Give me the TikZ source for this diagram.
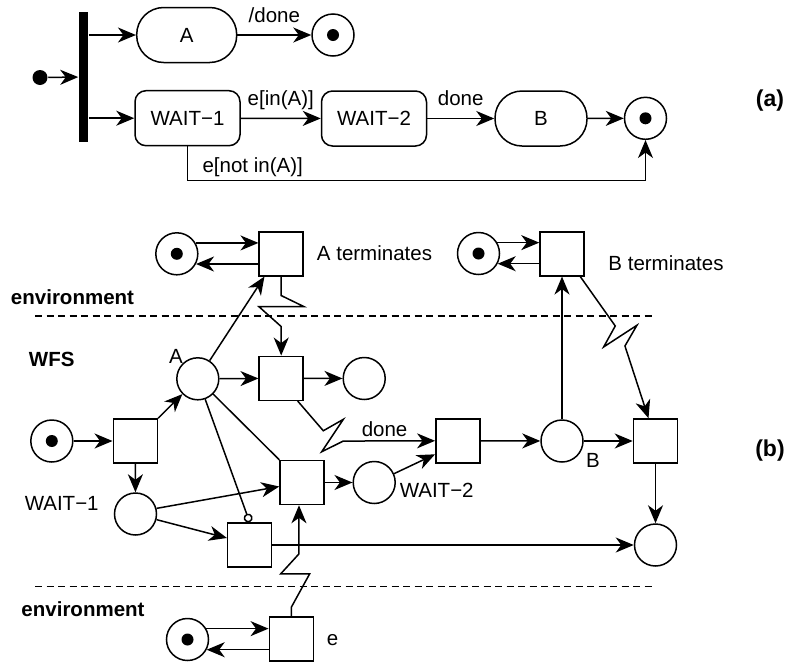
\documentclass[tikz,border=0pt]{standalone}
\usepackage{fontspec}
\setmainfont{Liberation Sans}
\usetikzlibrary{arrows.meta,calc}

\tikzset{
  place/.style={circle, draw, minimum size=42pt, inner sep=0pt},
  final/.style={place, path picture={\fill (path picture bounding box.center) circle (6pt);}},
  trans/.style={rectangle, draw, minimum size=44pt, inner sep=0pt},
  state/.style={rectangle, draw, rounded corners=11pt, minimum width=105pt, minimum height=55pt},
  activity/.style={rectangle, draw, rounded corners=27pt, minimum height=55pt},
  lbl/.style={anchor=base, yshift=13pt},
  zone/.style={font=\fontsize{20.5}{24}\selectfont\bfseries},
  part/.style={font=\fontsize{23}{28}\selectfont\bfseries},
  border/.style={dash pattern=on 7pt off 4.5pt},
}

\begin{document}
\begin{tikzpicture}[x=1pt, y=-1pt, line width=1.5pt,
    >={Stealth[length=18pt,width=15pt,inset=5.5pt]},
    font=\fontsize{20.5}{24}\selectfont]
    \useasboundingbox (0,0) rectangle (787,662);

    % (a) statechart
    \node[circle, fill, minimum size=15pt, inner sep=0pt] (ini) at (40,77.5) {};
    \node[fill, minimum width=9pt, minimum height=130pt, inner sep=0pt] (fork) at (83.5,77) {};
    \node[activity, minimum width=100pt] (stA) at (186.7,35) {A};
    \node[final] (finA) at (333,35) {};
    \node[state] (stW1) at (187.5,118.2) {WAIT−1};
    \node[state] (stW2) at (374,118.5) {WAIT−2};
    \node[activity, minimum width=92pt] (stB) at (541,118.5) {B};
    \node[final] (finB) at (645.5,118.3) {};
    \node[part] (capA) at (770,101) {(a)};

    \draw[->] (ini) -- (fork);
    \draw[->] (fork.east |- stA.west) -- (stA);
    \draw[->] (stA) -- node[lbl] {/done} (finA);
    \draw[->] (fork.east |- stW1.west) -- (stW1);
    \draw[->] (stW1) -- node[lbl] {e[in(A)]} (stW2);
    \draw[->] (stW2) -- node[lbl] {done} (stB);
    \draw[->] (stB) -- (finB);
    \draw[->] (stW1.south) |- node[above right, xshift=11pt] {e[not in(A)]}
        ([yshift=-40.5pt]finB.south) -- (finB.south);

    % (b) net
    \draw[border] (35,316) -- (652,316);
    \draw[border] (35,586.7) -- (652,586.7);
    \node[zone] (env1) at (72.5,297) {environment};
    \node[zone] (wfs) at (51.7,359) {WFS};
    \node[zone] (env2) at (83,609) {environment};
    \node[part] (capB) at (770,451) {(b)};

    \node[final] (finAt) at (176.8,253.8) {};
    \node[trans] (tAt) at (281.2,253.8) {};
    \node (lAt) at (374.5,253) {A terminates};
    \node[final] (finBt) at (478.5,253.5) {};
    \node[trans] (tBt) at (562,253.8) {};
    \node (lBt) at (666,263) {B terminates};

    \node[final] (p0) at (51.8,441) {};
    \node[trans] (t1) at (135.3,441) {};
    \node[place] (pA) at (197.8,378.8) {};
    \node (lA) at (176,356) {A};
    \node[trans] (t2) at (281.2,378.3) {};
    \node[place] (p3) at (364.2,378.5) {};
    \node[place] (pW1) at (135.5,514) {};
    \node (lW1) at (61.7,503) {WAIT−1};
    \node[trans] (t3) at (302,482.5) {};
    \node[place] (pW2) at (374.2,482.5) {};
    \node (lW2) at (436.7,490) {WAIT−2};
    \node[trans] (t4) at (457.8,440.8) {};
    \node[place] (pB) at (562,441) {};
    \node (lB) at (593,460) {B};
    \node[trans] (t5) at (655.5,441) {};
    \node[place] (pEnd) at (655.5,545) {};
    \node[trans] (t6) at (249.7,545) {};

    \node[final] (finE) at (187.5,639.5) {};
    \node[trans] (tE) at (291.3,639) {};
    \node (le) at (332.5,640) {e};

    % environment loops
    \draw[->] (finAt.30) -- (finAt.30 -| tAt.west);
    \draw[->] (tAt.west |- finAt.-28) -- (finAt.-28);
    \draw[->] (finBt.30) -- (finBt.30 -| tBt.west);
    \draw[->] (tBt.west |- finBt.-28) -- (finBt.-28);
    \draw[->] (finE.30) -- (finE.30 -| tE.west);
    \draw[->] (tE.west |- finE.-28) -- (finE.-28);

    % WFS arcs
    \draw[->] (p0) -- (t1);
    \draw[->] (t1.north east) -- (pA);
    \draw[->] (t1) -- (pW1);
    \draw[->] (pA) -- ([xshift=6pt]tAt.south west);
    \draw[->] (pA) -- (t2);
    \draw[->] (t2) -- (p3);
    \draw (pA) -- (t3.north west);
    \draw[-{Circle[open,length=9pt,width=9pt]}] (pA) -- (t6.north);
    \draw[->] (pW1.15) -- ([yshift=-4pt]t3.west);
    \draw[->] (pW1.-15) -- ([yshift=7pt]t6.west);
    \draw[->] (t3) -- (pW2);
    \draw[->] (pW2.24) -- ([yshift=-13.5pt]t4.west);
    \draw[->] (t4) -- (pB);
    \draw[->] (pB) -- (t5);
    \draw[->] (pB) -- (tBt);
    \draw[->] (t5) -- (pEnd);
    \draw[->] (t6) -- (pEnd);

    % signals
    \draw[->] (tAt.south) -- ++(0,19) -- ++(22.6,11) -- ++(-45,0) -- ++(22.4,20) -- (t2.north);
    \draw[->] ([xshift=16.5pt]t2.south) -- ++(25.6,29.7) -- ++(20,-11.4) -- ++(-21.6,32.4)
        -- ++(21.6,-10.7) -- node[pos=0.45, anchor=base, yshift=4.5pt] {done} (t4.west);
    \draw[->] ([xshift=-4.5pt]tBt.south east) -- ++(35,49.4) -- ++(-11.6,21) -- ++(33.3,-21.7)
        -- ++(-12,20.7) -- ([xshift=-7pt]t5.north);
    \draw[->] (tE.north) -- ++(0,-9) -- ++(18.3,-33.3) -- ++(-29,0) -- ++(18.3,-20)
        -- ([xshift=-3pt]t3.south);
\end{tikzpicture}
\end{document}
